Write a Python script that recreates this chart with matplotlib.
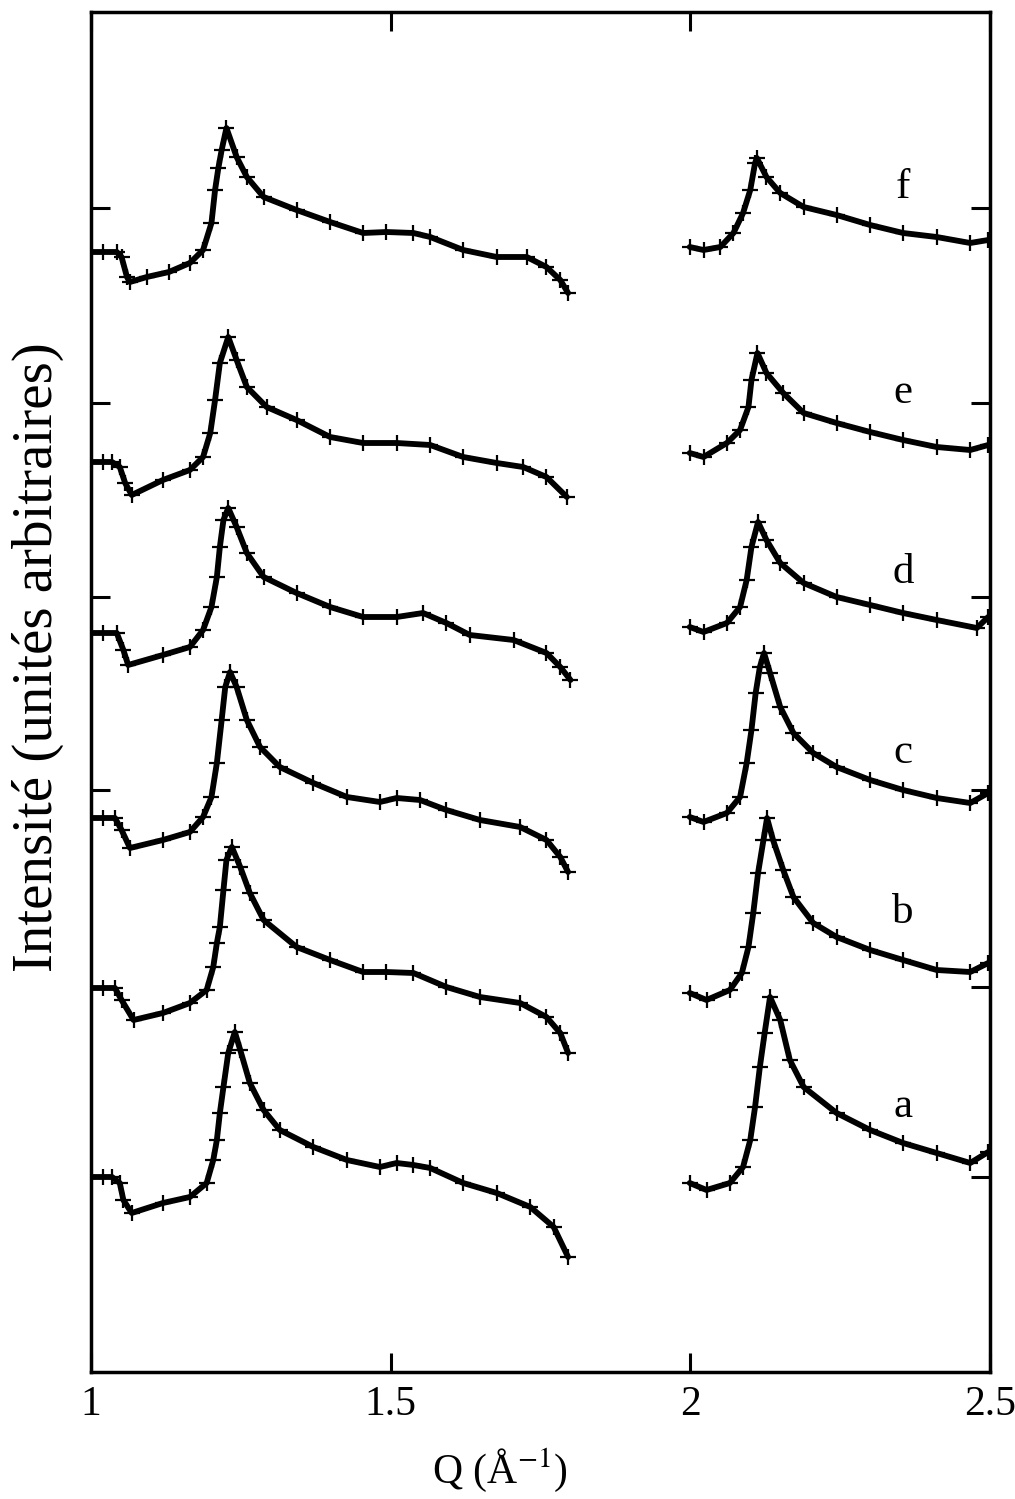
import matplotlib
matplotlib.use("Agg")
import matplotlib.pyplot as plt

plt.rcParams['font.family'] = ['Liberation Serif', 'DejaVu Serif']
plt.rcParams['mathtext.fontset'] = 'stix'

# curve data: Q (1/A) and intensity (arbitrary units)
a_left_q = [1.000, 1.020, 1.035, 1.048, 1.054, 1.068, 1.120, 1.165, 1.193, 1.204, 1.210, 1.215, 1.221, 1.229, 1.240,
            1.249, 1.265, 1.288, 1.315, 1.371, 1.427, 1.482, 1.510, 1.538, 1.566, 1.621, 1.677, 1.733, 1.772, 1.796]
a_left_i = [195, 195, 195, 189, 172, 159, 169, 175, 189, 212, 232, 259, 285, 319, 340,
            322, 289, 262, 242, 225, 212, 205, 209, 207, 204, 189, 179, 165, 145, 115]
a_right_q = [1.999, 2.027, 2.066, 2.088, 2.100, 2.108, 2.116, 2.124, 2.133, 2.150, 2.166, 2.189, 2.244, 2.300,
             2.355, 2.411, 2.467, 2.497]
a_right_i = [189, 182, 189, 205, 232, 265, 305, 339, 375, 352, 312, 285, 259, 242, 229, 219, 209, 220]

b_left_q = [1.000, 1.020, 1.040, 1.051, 1.071, 1.120, 1.165, 1.193, 1.204, 1.210, 1.215, 1.221, 1.226, 1.235,
            1.249, 1.265, 1.288, 1.343, 1.399, 1.454, 1.493, 1.538, 1.593, 1.649, 1.716, 1.760, 1.783, 1.796]
b_left_i = [384, 384, 384, 372, 352, 359, 369, 382, 405, 429, 445, 482, 512, 525,
            505, 479, 452, 425, 412, 400, 400, 399, 385, 375, 369, 355, 339, 319]
b_right_q = [1.999, 2.027, 2.066, 2.086, 2.097, 2.105, 2.113, 2.122, 2.128, 2.138, 2.155, 2.172, 2.205, 2.244,
             2.300, 2.355, 2.411, 2.467, 2.497]
b_right_i = [379, 372, 382, 399, 425, 459, 499, 532, 554, 532, 502, 475, 449, 435, 422, 412, 402, 400, 409]

c_left_q = [1.000, 1.020, 1.040, 1.051, 1.065, 1.120, 1.165, 1.187, 1.201, 1.210, 1.218, 1.224, 1.232, 1.243,
            1.260, 1.282, 1.315, 1.371, 1.427, 1.482, 1.510, 1.549, 1.593, 1.649, 1.716, 1.760, 1.783, 1.796]
c_left_i = [554, 554, 554, 542, 524, 532, 540, 555, 575, 609, 652, 685, 700, 685,
            652, 625, 605, 589, 575, 570, 574, 572, 562, 552, 545, 532, 515, 500]
c_right_q = [1.999, 2.022, 2.061, 2.083, 2.094, 2.102, 2.109, 2.116, 2.123, 2.133, 2.150, 2.172, 2.205, 2.244,
             2.300, 2.355, 2.411, 2.467, 2.497]
c_right_i = [555, 550, 559, 575, 609, 642, 679, 705, 719, 699, 665, 639, 619, 605, 592, 582, 574, 569, 579]

d_left_q = [1.000, 1.020, 1.043, 1.054, 1.062, 1.120, 1.165, 1.187, 1.201, 1.210, 1.215, 1.221, 1.229, 1.243,
            1.260, 1.288, 1.343, 1.399, 1.454, 1.510, 1.554, 1.593, 1.632, 1.705, 1.760, 1.783, 1.800]
d_left_i = [739, 739, 739, 722, 707, 717, 725, 742, 765, 795, 825, 852, 864, 845,
            819, 795, 779, 765, 755, 755, 759, 749, 737, 732, 719, 705, 692]
d_right_q = [1.999, 2.022, 2.061, 2.083, 2.094, 2.102, 2.113, 2.127, 2.150, 2.189, 2.244, 2.300, 2.355, 2.411,
             2.478, 2.497]
d_right_i = [745, 740, 749, 765, 792, 825, 850, 832, 809, 789, 775, 767, 759, 752, 744, 755]

e_left_q = [1.000, 1.020, 1.035, 1.048, 1.057, 1.068, 1.120, 1.165, 1.187, 1.199, 1.207, 1.215, 1.229, 1.243,
            1.260, 1.293, 1.343, 1.399, 1.454, 1.510, 1.566, 1.621, 1.677, 1.721, 1.760, 1.794]
e_left_i = [910, 910, 910, 905, 889, 877, 892, 902, 915, 939, 972, 1009, 1035, 1012,
            985, 965, 952, 935, 929, 929, 927, 915, 909, 905, 895, 875]
e_right_q = [1.999, 2.022, 2.061, 2.083, 2.097, 2.102, 2.112, 2.127, 2.155, 2.189, 2.244, 2.300, 2.355, 2.411,
             2.467, 2.497]
e_right_i = [919, 915, 929, 942, 965, 992, 1019, 999, 979, 959, 949, 940, 932, 925, 922, 927]

f_left_q = [1.000, 1.020, 1.043, 1.051, 1.060, 1.065, 1.093, 1.130, 1.165, 1.187, 1.201, 1.207, 1.2125, 1.218,
            1.226, 1.243, 1.260, 1.288, 1.343, 1.399, 1.454, 1.493, 1.538, 1.566, 1.621, 1.677, 1.727, 1.760,
            1.783, 1.796]
f_left_i = [1120, 1120, 1120, 1115, 1095, 1090, 1095, 1100, 1109, 1122, 1149, 1182, 1204, 1222,
            1244, 1215, 1195, 1175, 1162, 1150, 1139, 1140, 1139, 1135, 1122, 1115, 1115, 1105,
            1092, 1079]
f_right_q = [1.999, 2.022, 2.050, 2.072, 2.088, 2.100, 2.108, 2.111, 2.127, 2.150, 2.189, 2.244, 2.300, 2.355,
             2.411, 2.467, 2.497]
f_right_i = [1125, 1122, 1125, 1139, 1159, 1182, 1209, 1214, 1195, 1179, 1165, 1157, 1147, 1139, 1135, 1129, 1132]

labels = ['a', 'b', 'c', 'd', 'e', 'f']
label_i = [265, 459, 619, 799, 979, 1184]

curves = [
    (a_left_q, a_left_i, a_right_q, a_right_i),
    (b_left_q, b_left_i, b_right_q, b_right_i),
    (c_left_q, c_left_i, c_right_q, c_right_i),
    (d_left_q, d_left_i, d_right_q, d_right_i),
    (e_left_q, e_left_i, e_right_q, e_right_i),
    (f_left_q, f_left_i, f_right_q, f_right_i),
]

fig = plt.figure(figsize=(10.15, 14.99), dpi=100)
ax = fig.add_axes([91 / 1015, 127 / 1499, 899 / 1015, 1360 / 1499])

for lq, li, rq, ri in curves:
    for q, i in ((lq, li), (rq, ri)):
        ax.plot(q, i, '-', color='k', lw=4.2, solid_capstyle='round', solid_joinstyle='round', zorder=2)
        ax.plot(q, i, '+', color='k', ms=11, mew=1.6, zorder=3)

for lab, yi in zip(labels, label_i):
    ax.text(2.355, yi, lab, fontsize=31, ha='center', va='center')

ax.set_xlim(1, 2.5)
ax.set_ylim(0, 1360)
ax.set_xticks([1, 1.5, 2, 2.5])
ax.set_xticklabels(['1', '1.5', '2', '2.5'])
ax.set_yticks([195, 385, 582, 775, 969, 1164])
ax.set_yticklabels([])
ax.tick_params(direction='in', length=14, width=2.2, top=True, right=True,
               labelsize=30, pad=10)
for s in ax.spines.values():
    s.set_linewidth(2.5)

ax.set_xlabel('Q (Å$^{-1}$)', fontsize=30, labelpad=10)
ax.xaxis.set_label_coords((500 - 91) / 899, -0.055)
fig.text(38 / 1015, 1 - 657 / 1499, 'Intensité (unités arbitraires)', rotation=90,
         fontsize=41, ha='center', va='center')

fig.savefig('out.png', dpi=100)
